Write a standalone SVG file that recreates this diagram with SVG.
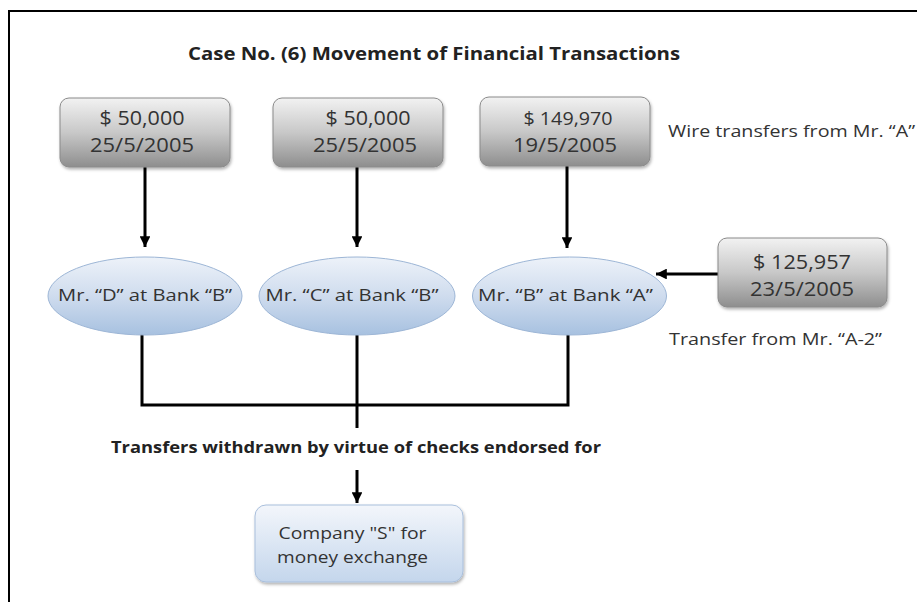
<svg xmlns="http://www.w3.org/2000/svg" width="917" height="602" viewBox="0 0 917 602">
<defs>
<linearGradient id="gGrey" x1="0" y1="0" x2="0" y2="1">
<stop offset="0" stop-color="#f2f2f2"/>
<stop offset="0.5" stop-color="#c8c8c8"/>
<stop offset="1" stop-color="#8e8e8e"/>
</linearGradient>
<linearGradient id="gBlue" x1="0" y1="0" x2="0" y2="1">
<stop offset="0" stop-color="#edf2f9"/>
<stop offset="0.5" stop-color="#cfdcee"/>
<stop offset="1" stop-color="#a7c1e0"/>
</linearGradient>
<linearGradient id="gBox" x1="0" y1="0" x2="0" y2="1">
<stop offset="0" stop-color="#f3f6fb"/>
<stop offset="1" stop-color="#c4d6ec"/>
</linearGradient>
<filter id="sh" x="-10%" y="-10%" width="125%" height="130%">
<feDropShadow dx="1" dy="2" stdDeviation="1.5" flood-color="#000" flood-opacity="0.3"/>
</filter>
<marker id="ah" viewBox="0 0 10 10" refX="10" refY="5" markerWidth="3.6" markerHeight="3.6" orient="auto" markerUnits="strokeWidth">
<path d="M0,0 L10,5 L0,10 z" fill="#000"/>
</marker>
</defs>
<style>
.grey{fill:url(#gGrey);stroke:#8a8a8a;stroke-width:1;filter:url(#sh)}
.ell{fill:url(#gBlue);stroke:#9db6d6;stroke-width:1}
.co{fill:url(#gBox);stroke:#a9bfdc;stroke-width:1;filter:url(#sh)}
.t{font-family:"Open Sans","Liberation Sans",sans-serif;fill:#333;text-anchor:middle}
.big{font-size:20px}
.mid{font-size:18px}
.lbl{font-family:"Open Sans","Liberation Sans",sans-serif;fill:#333;font-size:17px}
.bold{font-family:"Open Sans","Liberation Sans",sans-serif;font-weight:bold;fill:#222}
.ln{stroke:#000;stroke-width:3;fill:none}
</style>
<rect width="917" height="602" fill="#fff"/>
<path d="M9,602 V11 H917" fill="none" stroke="#000" stroke-width="2"/>
<text class="bold" x="188" y="60" font-size="18" textLength="492" lengthAdjust="spacingAndGlyphs">Case No. (6) Movement of Financial Transactions</text>

<g id="connectors">
<line class="ln" x1="145" y1="167" x2="145" y2="247" marker-end="url(#ah)"/>
<line class="ln" x1="357" y1="167" x2="357" y2="247" marker-end="url(#ah)"/>
<line class="ln" x1="567" y1="166" x2="567" y2="248" marker-end="url(#ah)"/>
<line class="ln" x1="718" y1="274" x2="656" y2="274" marker-end="url(#ah)"/>
<path class="ln" d="M142,334 V405 H568 V334"/>
<line class="ln" x1="357" y1="335" x2="357" y2="428"/>
<line class="ln" x1="357" y1="470" x2="357" y2="503" marker-end="url(#ah)"/>
</g>

<g id="box1">
<rect class="grey" x="60" y="98" width="170" height="69" rx="9"/>
<text class="t big" x="142" y="125" textLength="85" lengthAdjust="spacingAndGlyphs">$ 50,000</text>
<text class="t big" x="142" y="152" textLength="104" lengthAdjust="spacingAndGlyphs">25/5/2005</text>
</g>
<g id="box2">
<rect class="grey" x="273" y="98" width="170" height="69" rx="9"/>
<text class="t big" x="368" y="125" textLength="85" lengthAdjust="spacingAndGlyphs">$ 50,000</text>
<text class="t big" x="365" y="152" textLength="104" lengthAdjust="spacingAndGlyphs">25/5/2005</text>
</g>
<g id="box3">
<rect class="grey" x="480" y="97" width="170" height="69" rx="9"/>
<text class="t mid" x="568" y="125" textLength="89" lengthAdjust="spacingAndGlyphs">$ 149,970</text>
<text class="t big" x="565" y="152" textLength="104" lengthAdjust="spacingAndGlyphs">19/5/2005</text>
</g>
<g id="box4">
<rect class="grey" x="718" y="238" width="169" height="69" rx="9"/>
<text class="t big" x="802" y="269" textLength="98" lengthAdjust="spacingAndGlyphs">$ 125,957</text>
<text class="t big" x="802" y="296" textLength="104" lengthAdjust="spacingAndGlyphs">23/5/2005</text>
</g>
<text class="lbl" x="668" y="137" textLength="247" lengthAdjust="spacingAndGlyphs">Wire transfers from Mr. “A”</text>
<text class="lbl" x="669" y="345" textLength="213" lengthAdjust="spacingAndGlyphs">Transfer from Mr. “A-2”</text>

<g id="ell1">
<ellipse class="ell" cx="145" cy="296" rx="97" ry="39"/>
<text class="t" font-size="17" x="145" y="301" textLength="174" lengthAdjust="spacingAndGlyphs">Mr. “D” at Bank “B”</text>
</g>
<g id="ell2">
<ellipse class="ell" cx="357" cy="296" rx="98" ry="39"/>
<text class="t" font-size="17" x="352" y="301" textLength="173" lengthAdjust="spacingAndGlyphs">Mr. “C” at Bank “B”</text>
</g>
<g id="ell3">
<ellipse class="ell" cx="569.5" cy="296" rx="97" ry="39"/>
<text class="t" font-size="17" x="565.5" y="301" textLength="175" lengthAdjust="spacingAndGlyphs">Mr. “B” at Bank “A”</text>
</g>

<text class="bold" x="111" y="453" font-size="16.5" textLength="490" lengthAdjust="spacingAndGlyphs">Transfers withdrawn by virtue of checks endorsed for</text>

<g id="company">
<rect class="co" x="255" y="505" width="208" height="77" rx="11"/>
<text class="t" font-size="17" x="352.5" y="539" textLength="148" lengthAdjust="spacingAndGlyphs">Company "S" for</text>
<text class="t" font-size="17" x="352.5" y="563" textLength="151" lengthAdjust="spacingAndGlyphs">money exchange</text>
</g>
</svg>
